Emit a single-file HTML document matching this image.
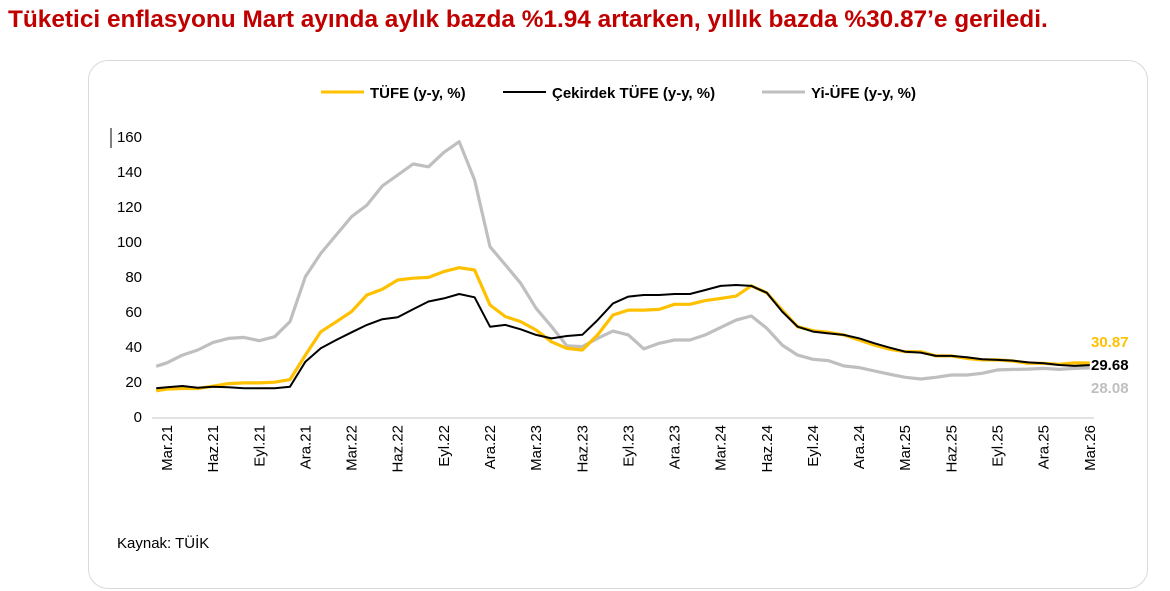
<!DOCTYPE html>
<html><head><meta charset="utf-8"><style>
body{margin:0;width:1170px;height:591px;background:#fff;font-family:"Liberation Sans",Arial,sans-serif;overflow:hidden;position:relative}
.t{position:absolute;left:8px;top:6px;font-size:24.4px;font-weight:bold;color:#C00000;white-space:nowrap}
.box{position:absolute;left:88px;top:60px;width:1058px;height:527px;border:1.5px solid #d9d9d9;border-radius:20px}
svg{position:absolute;left:0;top:0}
</style></head><body>
<div class="t">Tüketici enflasyonu Mart ayında aylık bazda %1.94 artarken, yıllık bazda %30.87’e geriledi.</div>
<div class="box"></div>
<svg width="1170" height="591" id="s" font-family="Liberation Sans, Arial, sans-serif">
<line x1="321" y1="92" x2="364" y2="92" stroke="#FFC000" stroke-width="3"/>
<text x="370" y="98" font-size="15" font-weight="bold">TÜFE (y-y, %)</text>
<line x1="503" y1="92" x2="546" y2="92" stroke="#000" stroke-width="2"/>
<text x="552" y="98" font-size="15" font-weight="bold">Çekirdek TÜFE (y-y, %)</text>
<line x1="762" y1="92" x2="805" y2="92" stroke="#BFBFBF" stroke-width="3"/>
<text x="811" y="98" font-size="15" font-weight="bold">Yi-ÜFE (y-y, %)</text>
<line x1="111" y1="128" x2="111" y2="148" stroke="#000" stroke-width="1"/>
<line x1="152" y1="418" x2="1094" y2="418" stroke="#d9d9d9" stroke-width="1.5"/>
<g id="g"></g>
<text x="1091" y="347" font-size="15" font-weight="bold" fill="#FFC000">30.87</text>
<text x="1091" y="370" font-size="15" font-weight="bold" fill="#000">29.68</text>
<text x="1091" y="393" font-size="15" font-weight="bold" fill="#BFBFBF">28.08</text>
<text x="117" y="548" font-size="15">Kaynak: TÜİK</text>
</svg>
<script>
var g=document.getElementById('g');
function X(i){return 167+15.38*i}function Y(v){return 417-v*1.75}
var h='';
for(var v=0;v<=160;v+=20){h+='<text x="142" y="'+(Y(v)+5)+'" font-size="15" text-anchor="end">'+v+'</text>';}
var L=['Mar','Haz','Eyl','Ara'];
for(var k=0;k<=20;k++){var i=k*3,yr=21+Math.floor((k)/4);var lab=L[k%4]+'.'+yr;
h+='<text transform="translate('+(X(i)+5)+',425) rotate(-90)" font-size="15" text-anchor="end">'+lab+'</text>';}
var gray=[31,35.4,38.3,42.6,44.9,45.5,43.6,45.9,54.5,80.2,93.5,104,114.5,121.1,132,138.3,144.6,143,151.2,157.3,135.4,97.3,86.9,76.4,62.1,51.7,40.6,40.2,45,49.1,46.9,38.9,42.1,44,44,46.9,51.2,55.4,57.7,50.7,41.1,35.4,33,32.2,29.2,28.2,26.3,24.4,22.7,21.7,22.7,24,24,25,26.9,27.2,27.4,27.8,27.2,27.8,28.08];
var yel=[16,16.3,16.3,17.6,19.1,19.5,19.5,19.9,21.4,35.4,48.7,54.4,60.2,69.7,73,78.3,79.3,79.8,83.1,85.3,84,64,57.4,54.5,49.7,43,39.2,38.3,46.9,58.3,61.1,61.1,61.5,64.4,64.4,66.5,67.8,69.1,75,71,61.1,51.6,49.3,48.4,46.9,44,41.1,38.7,37.3,37.3,34.9,34.9,33.5,32.6,32.6,32,30.7,30.7,30.1,31,30.87];
var blk=[17,17.7,16.7,17.3,17,16.4,16.4,16.4,17.3,31.6,39.3,44,48.4,52.6,55.9,57,61.6,66,67.8,70.3,68.4,51.6,52.6,50.1,46.9,44.9,46.3,47,55.4,64.9,68.8,69.7,69.7,70.3,70.3,72.6,74.9,75.4,74.9,71,60.2,51.6,48.8,47.8,46.9,45,42.1,39.6,37.3,36.8,34.9,34.9,34.1,33,32.6,32.2,31.2,30.7,29.7,29.2,29.68];
function pl(d,s0,c,w){var p=[[X(-0.7),Y(s0)]];for(var i=0;i<d.length;i++)p.push([X(i),Y(d[i])]);
return '<polyline fill="none" stroke="'+c+'" stroke-width="'+w+'" stroke-linejoin="round" points="'+p.map(function(a){return a[0].toFixed(1)+','+a[1].toFixed(1)}).join(' ')+'"/>';}
h+=pl(gray,29,'#BFBFBF',3.2)+pl(yel,15,'#FFC000',3.2)+pl(blk,16.4,'#000',2);
g.innerHTML=h;
</script>
</body></html>
